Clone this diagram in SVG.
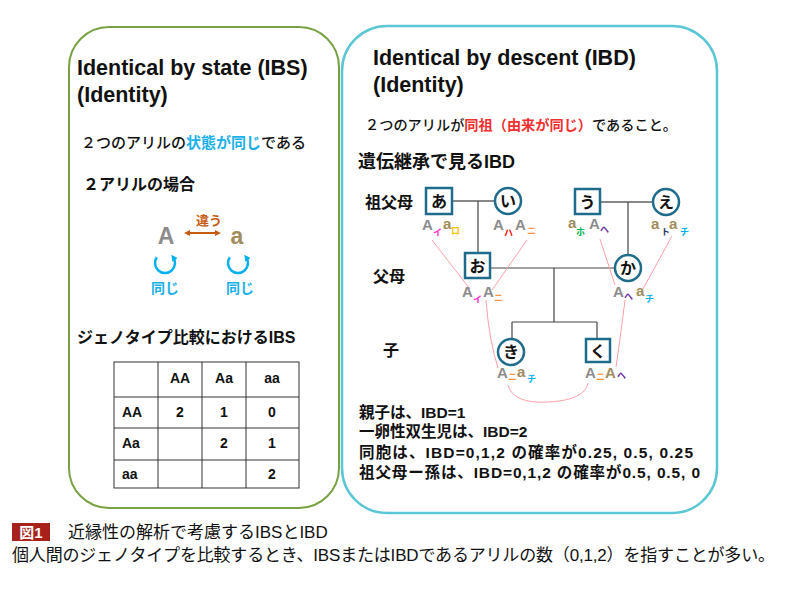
<svg xmlns="http://www.w3.org/2000/svg" width="788" height="592" viewBox="0 0 788 592">
<style>
text{font-family:"Liberation Sans","Noto Sans CJK JP",sans-serif;}
.ttl{font-size:21.5px;font-weight:bold;fill:#111;}
.jp{font-weight:500;fill:#111;}
.b{font-weight:bold;fill:#111;}
.tb{font-size:14px;font-weight:bold;fill:#111;}
.node{fill:#fff;stroke:#1f6b8c;stroke-width:2.5;}
.nt{font-size:16px;font-weight:bold;fill:#111;text-anchor:middle;}
.A{font-size:15px;font-weight:bold;fill:#8c8c8c;}
.a{font-size:15px;font-weight:bold;fill:#a08c5c;}
.s{font-size:9px;font-weight:bold;}
.pl{stroke:#888;stroke-width:2;fill:none;}
.dl{stroke:#444;stroke-width:1.2;fill:none;}
.pk{stroke:#ffa0a8;stroke-width:1;fill:none;}
.cap{font-size:17px;fill:#111;}
</style>
<defs>
<marker id="ch" viewBox="0 0 10 10" refX="5" refY="5" markerWidth="2.6" markerHeight="2.6" orient="auto"><path d="M0,0 L10,5 L0,10 z" fill="#00b0f0"/></marker>
<marker id="bh" viewBox="0 0 10 10" refX="7" refY="5" markerWidth="3.2" markerHeight="3.2" orient="auto-start-reverse"><path d="M0,0 L10,5 L0,10 z" fill="#c55a11"/></marker>
</defs>
<rect width="788" height="592" fill="#fff"/>

<g id="ibs-panel">
<rect x="69" y="27" width="270" height="481" rx="40" fill="#fff" stroke="#77a143" stroke-width="2"/>
<text class="ttl" x="77" y="75">Identical by state (IBS)</text>
<text class="ttl" x="77" y="102">(Identity)</text>
<text class="jp" x="81" y="148" font-size="15">２つのアリルの<tspan fill="#1ab0e8" font-weight="bold">状態が同じ</tspan>である</text>
<text class="b" x="83" y="190" font-size="16">２アリルの場合</text>
</g>

<g id="allele-compare">
<text x="209" y="225" font-size="13" font-weight="bold" fill="#c55a11" text-anchor="middle">違う</text>
<line x1="186" y1="233" x2="219" y2="233" stroke="#c55a11" stroke-width="2" marker-start="url(#bh)" marker-end="url(#bh)"/>
<text x="166" y="244" font-size="23" font-weight="bold" fill="#8c8c8c" text-anchor="middle">A</text>
<text x="237" y="244" font-size="23" font-weight="bold" fill="#a08c5c" text-anchor="middle">a</text>
<path d="M156.8,257.3 A10,10 0 1 0 173.2,257.3" fill="none" stroke="#00b0f0" stroke-width="2.5" marker-end="url(#ch)"/>
<path d="M229.8,257.3 A10,10 0 1 0 246.2,257.3" fill="none" stroke="#00b0f0" stroke-width="2.5" marker-end="url(#ch)"/>
<text x="165" y="293" font-size="14" font-weight="bold" fill="#1ab0e8" text-anchor="middle">同じ</text>
<text x="240" y="293" font-size="14" font-weight="bold" fill="#1ab0e8" text-anchor="middle">同じ</text>
</g>

<g id="ibs-table">
<text class="b" x="77" y="343" font-size="16">ジェノタイプ比較におけるIBS</text>
<g stroke="#333" stroke-width="1" fill="none">
<rect x="114" y="362" width="185" height="126"/>
<line x1="158" y1="362" x2="158" y2="488"/>
<line x1="202" y1="362" x2="202" y2="488"/>
<line x1="246" y1="362" x2="246" y2="488"/>
<line x1="114" y1="397" x2="299" y2="397"/>
<line x1="114" y1="428" x2="299" y2="428"/>
<line x1="114" y1="460" x2="299" y2="460"/>
</g>
<g class="tb" text-anchor="middle">
<text class="tb" x="180" y="383" text-anchor="middle">AA</text>
<text class="tb" x="224" y="383" text-anchor="middle">Aa</text>
<text class="tb" x="272" y="383" text-anchor="middle">aa</text>
<text class="tb" x="180" y="417" text-anchor="middle">2</text>
<text class="tb" x="224" y="417" text-anchor="middle">1</text>
<text class="tb" x="272" y="417" text-anchor="middle">0</text>
<text class="tb" x="224" y="448" text-anchor="middle">2</text>
<text class="tb" x="272" y="448" text-anchor="middle">1</text>
<text class="tb" x="272" y="479" text-anchor="middle">2</text>
</g>
<text class="tb" x="122" y="417">AA</text>
<text class="tb" x="122" y="448">Aa</text>
<text class="tb" x="122" y="479">aa</text>
</g>

<g id="ibd-panel">
<rect x="342" y="26" width="375" height="487" rx="45" fill="#fff" stroke="#5bc6d4" stroke-width="2.5"/>
<text class="ttl" x="373" y="65">Identical by descent (IBD)</text>
<text class="ttl" x="373" y="92">(Identity)</text>
<text class="jp" x="365" y="130" font-size="14.2">２つのアリルが<tspan fill="#f03030" font-weight="bold">同祖（由来が同じ）</tspan>であること。</text>
<text class="b" x="358" y="168" font-size="18">遺伝継承で見るIBD</text>
<text class="b" x="365" y="208" font-size="16">祖父母</text>
<text class="b" x="373" y="282" font-size="16">父母</text>
<text class="b" x="383" y="356" font-size="16">子</text>
</g>

<g id="connectors">
<line class="pl" x1="452" y1="201" x2="495" y2="201"/>
<line class="dl" x1="478" y1="201" x2="478" y2="253"/>
<line class="pl" x1="600" y1="202" x2="653" y2="202"/>
<line class="dl" x1="628" y1="202" x2="628" y2="255"/>
<line class="dl" x1="490" y1="268" x2="615" y2="268"/>
<line class="dl" x1="554" y1="268" x2="554" y2="322"/>
<line class="dl" x1="512" y1="322" x2="597" y2="322"/>
<line class="dl" x1="512" y1="322" x2="512" y2="339" stroke="#777"/>
<line class="dl" x1="597" y1="322" x2="597" y2="339" stroke="#777"/>
<path class="pk" d="M432,240 L470,289"/>
<path class="pk" d="M527,240 L492,290"/>
<path class="pk" d="M600,239 L615,285"/>
<path class="pk" d="M672,236 L643,289"/>
<path class="pk" d="M486,300 Q489,340 498,368"/>
<path class="pk" d="M625,300 Q620,340 616,367"/>
<path class="pk" d="M508,385 C512,400 530,403 548,402 C570,401 586,395 588,383"/>
</g>

<g id="node-a">
<rect class="node" x="426" y="188" width="26" height="26"/>
<text class="nt" x="439" y="207">あ</text>
<text class="A" x="422" y="230">A</text><text class="s" x="433" y="236" fill="#ff33cc">イ</text><text class="a" x="443" y="229">a</text><text class="s" x="451" y="234" fill="#ffc000">ロ</text>
</g>
<g id="node-i">
<circle class="node" cx="508" cy="201" r="13"/>
<text class="nt" x="508" y="207">い</text>
<text class="A" x="493" y="230">A</text><text class="s" x="504" y="236" fill="#ff0000">ハ</text><text class="A" x="515" y="230">A</text><text class="s" x="527" y="234" fill="#f79646">ニ</text>
</g>
<g id="node-u">
<rect class="node" x="575" y="189" width="25" height="25"/>
<text class="nt" x="587.5" y="207.5">う</text>
<text class="a" x="568" y="228">a</text><text class="s" x="576" y="235" fill="#00b050">ホ</text><text class="A" x="589" y="229">A</text><text class="s" x="600" y="233" fill="#7030a0">ヘ</text>
</g>
<g id="node-e">
<circle class="node" cx="666" cy="202" r="13"/>
<text class="nt" x="666" y="208">え</text>
<text class="a" x="651" y="229">a</text><text class="s" x="661" y="235" fill="#1f3864">ト</text><text class="a" x="669" y="229">a</text><text class="s" x="680" y="235" fill="#00b0f0">チ</text>
</g>
<g id="node-o">
<rect class="node" x="465" y="253" width="25" height="25"/>
<text class="nt" x="477.5" y="271.5">お</text>
<text class="A" x="462" y="297">A</text><text class="s" x="473" y="303" fill="#ff33cc">イ</text><text class="A" x="483" y="297">A</text><text class="s" x="494" y="301" fill="#f79646">ニ</text>
</g>
<g id="node-ka">
<circle class="node" cx="628" cy="268" r="13"/>
<text class="nt" x="628" y="274">か</text>
<text class="A" x="613" y="297">A</text><text class="s" x="624" y="300" fill="#7030a0">ヘ</text><text class="a" x="636" y="296">a</text><text class="s" x="645" y="302" fill="#00b0f0">チ</text>
</g>
<g id="node-ki">
<circle class="node" cx="511" cy="352" r="13"/>
<text class="nt" x="511" y="358">き</text>
<text class="A" x="497" y="378">A</text><text class="s" x="508" y="380" fill="#f79646">ニ</text><text class="a" x="517" y="377">a</text><text class="s" x="527" y="382" fill="#00b0f0">チ</text>
</g>
<g id="node-ku">
<rect class="node" x="586" y="339" width="24" height="23"/>
<text class="nt" x="598" y="356.5">く</text>
<text class="A" x="585" y="378">A</text><text class="s" x="596" y="380" fill="#f79646">ニ</text><text class="a" x="605" y="378">A</text><text class="s" x="617" y="379" fill="#7030a0">ヘ</text>
</g>

<g id="ibd-notes">
<text class="b" x="359" y="418" font-size="15.5">親子は、IBD=1</text>
<text class="b" x="359" y="437" font-size="15.5">一卵性双生児は、IBD=2</text>
<text class="b" x="359" y="458" font-size="15.5" textLength="334" lengthAdjust="spacing">同胞は、IBD=0,1,2 の確率が0.25, 0.5, 0.25</text>
<text class="b" x="359" y="478" font-size="15.5" textLength="341" lengthAdjust="spacing">祖父母ー孫は、IBD=0,1,2 の確率が0.5, 0.5, 0</text>
</g>

<g id="caption">
<rect x="12" y="523" width="38" height="18" fill="#a8201a"/>
<text x="31" y="538" font-size="15" font-weight="bold" fill="#fff" text-anchor="middle">図1</text>
<text class="cap" x="68" y="538">近縁性の解析で考慮するIBSとIBD</text>
<text class="cap" x="12" y="561" textLength="763" lengthAdjust="spacing">個人間のジェノタイプを比較するとき、IBSまたはIBDであるアリルの数（0,1,2）を指すことが多い。</text>
</g>
</svg>
